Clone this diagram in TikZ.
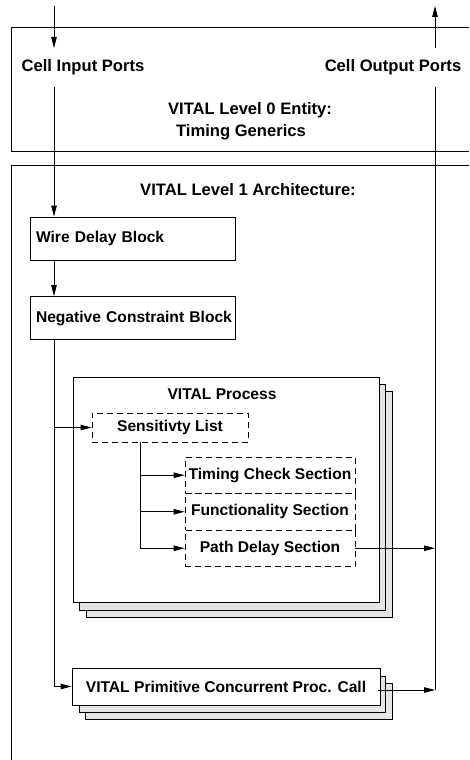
\documentclass[tikz,border=0pt]{standalone}
\usepackage{fontspec}
\setmainfont{Liberation Sans}
\usetikzlibrary{arrows.meta,calc}
\begin{document}
\begin{tikzpicture}[x=1pt,y=-1pt,
  lbl/.style={font=\fontsize{15.6}{20}\selectfont\bfseries, inner sep=1pt},
  hdr/.style={font=\fontsize{16.6}{20}\selectfont\bfseries, inner sep=1pt},
  arr/.style={-{Triangle[length=11pt,width=5.5pt]}, line width=0.9pt},
  ln/.style={line width=0.9pt},
  blk/.style={lbl, draw, line width=0.9pt, fill=white, minimum width=205pt, minimum height=43pt,
              text width=205pt, align=left, inner xsep=0pt},
  dbox/.style={lbl, draw, dash pattern=on 6pt off 4pt, line width=0.8pt, fill=white, inner sep=1pt},
  shd/.style={draw, line width=0.9pt, fill=black!10},
  front/.style={draw, line width=0.9pt, fill=white, inner sep=0pt}]
\useasboundingbox (0,0) rectangle (469,760);

% Level 0 entity box (open to the right)
\draw[line width=1pt] (469,28) -- (11,28) -- (11,151) -- (469,151);
% Level 1 architecture box (open to the right and bottom)
\draw[line width=1pt] (469,165) -- (11,165) -- (11,760);

\node[hdr] (inlab) at (83,67) {Cell Input Ports};
\node[hdr] (outlab) at (393,67) {Cell Output Ports};
\node[hdr] (l0a) at (250,110) {VITAL Level 0 Entity:};
\node[hdr] (l0b) at (241,132) {Timing Generics};
\node[hdr] (l1) at (248,190) {VITAL Level 1 Architecture:};

\node[blk] (wdb) at (132.5,238.5) {\hspace*{6pt}Wire Delay Block};
\node[blk] (ncb) at (132.5,318) {\hspace*{6pt}Negative Constraint Block};

% VITAL Process stack
\draw[shd] (86,391) rectangle (392,617);
\draw[shd] (79,384) rectangle (385,610);
\node[front, minimum width=306pt, minimum height=225pt] (proc) at (226,489.5) {};
\node[lbl] (proct) at (222,394) {VITAL Process};
\node[dbox, minimum width=156pt, minimum height=29pt] (sens) at (170,427.5) {Sensitivty List};
\node[dbox, minimum width=170pt, minimum height=36.5pt] (tcs) at (270,475.25) {Timing Check Section};
\node[dbox, minimum width=170pt, minimum height=36.5pt] (fs) at (270,511.75) {Functionality Section};
\node[dbox, minimum width=170pt, minimum height=36.5pt] (pds) at (270,548.25) {Path Delay Section};

% Primitive stack
\draw[shd] (85,683) rectangle (392,719);
\draw[shd] (79,676) rectangle (385,712);
\node[front, lbl, minimum width=308pt, minimum height=37pt] (prim) at (226,686.5) {VITAL Primitive Concurrent Proc. Call};

% coordinates
\coordinate (inTop) at (54,6);
\coordinate (inEnd) at (54,48);
\coordinate (inRes) at (54,87);
\coordinate (outTop) at (435,6);
\coordinate (outBeg) at (435,48);
\coordinate (outRes) at (435,87);
\coordinate (br) at (140,442);
\coordinate (pout) at (378,690);

% connectors
\draw[arr] (inTop) -- (inEnd);
\draw[arr] (inRes) -- (inRes |- wdb.north);
\draw[arr] (wdb.south -| inRes) -- (ncb.north -| inRes);
\draw[ln] (ncb.south -| inRes) -- (inRes |- prim.west);
\draw[arr] (inRes |- prim.west) -- (prim.west);
\draw[arr] (inRes |- sens.west) -- (sens.west);
\draw[ln] (br) -- (br |- pds.west);
\draw[arr] (br |- tcs.west) -- (tcs.west);
\draw[arr] (br |- fs.west) -- (fs.west);
\draw[arr] (br |- pds.west) -- (pds.west);
\draw[arr] (pds.east) -- (pds.east -| outRes);
\draw[arr] (pout) -- (pout -| outRes);
\draw[ln] (pout -| outRes) -- (outRes);
\draw[arr] (outBeg) -- (outTop);
\end{tikzpicture}
\end{document}
